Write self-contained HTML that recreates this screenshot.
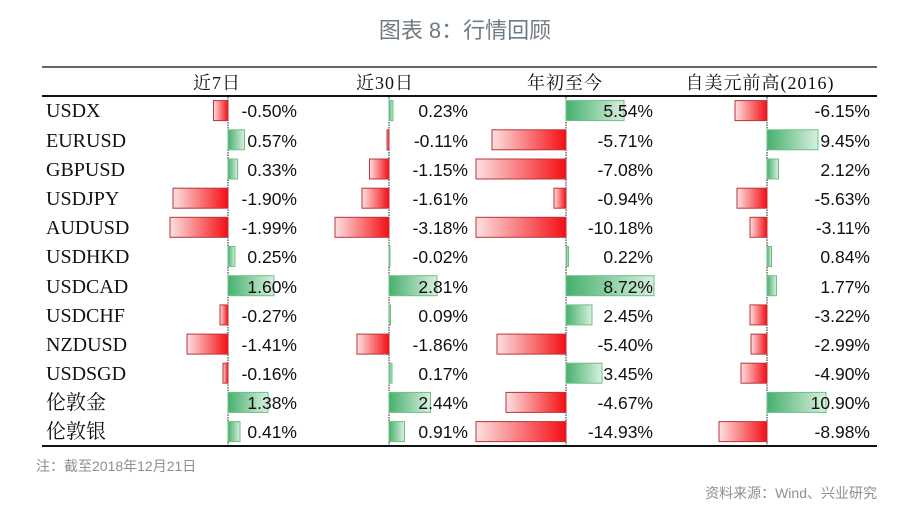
<!DOCTYPE html>
<html><head><meta charset="utf-8"><style>
html,body{margin:0;padding:0;background:#fff;}
svg{display:block;}
.lab{font-family:"Liberation Serif","Noto Serif CJK SC",serif;font-size:20px;fill:#111;}
.hd{font-family:"Liberation Serif","Noto Serif CJK SC",serif;font-size:18px;fill:#111;text-anchor:middle;letter-spacing:1px;}
.v{font-family:"Liberation Sans","Noto Sans CJK SC",sans-serif;font-size:17.5px;fill:#111;text-anchor:end;}
.r{fill:url(#gr);stroke:#b8353a;stroke-width:1;}
.g{fill:url(#gg);stroke:#6fbf86;stroke-width:1;}
.ax{stroke:#222;stroke-width:1;stroke-dasharray:1.5 1;}
</style></head><body>
<svg width="900" height="511" viewBox="0 0 900 511">
<defs>
<linearGradient id="gr" x1="0" x2="1" y1="0" y2="0"><stop offset="0" stop-color="#fde0e0"/><stop offset="1" stop-color="#f40e14"/></linearGradient>
<linearGradient id="gg" x1="0" x2="1" y1="0" y2="0"><stop offset="0" stop-color="#46b06c"/><stop offset="1" stop-color="#d8f0df"/></linearGradient>
</defs>
<text x="465" y="38" text-anchor="middle" style="font-family:'Liberation Sans','Noto Sans CJK SC',sans-serif;font-size:22px;fill:#6f7b84">图表 8：行情回顾</text>
<line x1="42" y1="67" x2="877" y2="67" stroke="#666" stroke-width="2"/>
<text class="hd" x="217" y="89">近7日</text>
<text class="hd" x="385" y="89">近30日</text>
<text class="hd" x="565" y="89">年初至今</text>
<text class="hd" x="760" y="89">自美元前高(2016)</text>
<line x1="42" y1="96" x2="877" y2="96" stroke="#111" stroke-width="2"/>
<line x1="42" y1="446" x2="877" y2="446" stroke="#111" stroke-width="2"/>
<line class="ax" x1="228" y1="97" x2="228" y2="445"/>
<line class="ax" x1="389" y1="97" x2="389" y2="445"/>
<line class="ax" x1="566" y1="97" x2="566" y2="445"/>
<line class="ax" x1="767" y1="97" x2="767" y2="445"/>

<text class="lab" x="46" y="117">USDX</text>
<text class="lab" x="46" y="147">EURUSD</text>
<text class="lab" x="46" y="176">GBPUSD</text>
<text class="lab" x="46" y="205">USDJPY</text>
<text class="lab" x="46" y="234">AUDUSD</text>
<text class="lab" x="46" y="263">USDHKD</text>
<text class="lab" x="46" y="293">USDCAD</text>
<text class="lab" x="46" y="322">USDCHF</text>
<text class="lab" x="46" y="351">NZDUSD</text>
<text class="lab" x="46" y="380">USDSGD</text>
<text class="lab" x="46" y="409">伦敦金</text>
<text class="lab" x="46" y="438">伦敦银</text>

<rect class="r" x="213.5" y="100.6" width="14.5" height="20"/>
<rect class="g" x="228" y="129.8" width="16.5" height="20"/>
<rect class="g" x="228" y="159" width="9.6" height="20"/>
<rect class="r" x="173" y="188.2" width="55" height="20"/>
<rect class="r" x="170" y="217.3" width="58" height="20"/>
<rect class="g" x="228" y="246.5" width="7" height="20"/>
<rect class="g" x="228" y="275.7" width="46" height="20"/>
<rect class="r" x="220" y="304.9" width="8" height="20"/>
<rect class="r" x="187" y="334.1" width="41" height="20"/>
<rect class="r" x="223" y="363.2" width="5" height="20"/>
<rect class="g" x="228" y="392.4" width="40" height="20"/>
<rect class="g" x="228" y="421.6" width="12" height="20"/>
<text class="v" x="297" y="117">-0.50%</text>
<text class="v" x="297" y="147">0.57%</text>
<text class="v" x="297" y="176">0.33%</text>
<text class="v" x="297" y="205">-1.90%</text>
<text class="v" x="297" y="234">-1.99%</text>
<text class="v" x="297" y="263">0.25%</text>
<text class="v" x="297" y="293">1.60%</text>
<text class="v" x="297" y="322">-0.27%</text>
<text class="v" x="297" y="351">-1.41%</text>
<text class="v" x="297" y="380">-0.16%</text>
<text class="v" x="297" y="409">1.38%</text>
<text class="v" x="297" y="438">0.41%</text>

<rect class="g" x="389" y="100.6" width="4" height="20"/>
<rect class="r" x="387" y="129.8" width="2" height="20"/>
<rect class="r" x="369.5" y="159" width="19.5" height="20"/>
<rect class="r" x="362" y="188.2" width="27" height="20"/>
<rect class="r" x="335" y="217.3" width="54" height="20"/>
<rect class="g" x="389" y="246.5" width="1" height="20"/>
<rect class="g" x="389" y="275.7" width="48" height="20"/>
<rect class="g" x="389" y="304.9" width="1.5" height="20"/>
<rect class="r" x="357" y="334.1" width="32" height="20"/>
<rect class="g" x="389" y="363.2" width="3" height="20"/>
<rect class="g" x="389" y="392.4" width="41.5" height="20"/>
<rect class="g" x="389" y="421.6" width="15.5" height="20"/>
<text class="v" x="468" y="117">0.23%</text>
<text class="v" x="468" y="147">-0.11%</text>
<text class="v" x="468" y="176">-1.15%</text>
<text class="v" x="468" y="205">-1.61%</text>
<text class="v" x="468" y="234">-3.18%</text>
<text class="v" x="468" y="263">-0.02%</text>
<text class="v" x="468" y="293">2.81%</text>
<text class="v" x="468" y="322">0.09%</text>
<text class="v" x="468" y="351">-1.86%</text>
<text class="v" x="468" y="380">0.17%</text>
<text class="v" x="468" y="409">2.44%</text>
<text class="v" x="468" y="438">0.91%</text>

<rect class="g" x="566" y="100.6" width="58" height="20"/>
<rect class="r" x="492" y="129.8" width="74" height="20"/>
<rect class="r" x="476" y="159" width="90" height="20"/>
<rect class="r" x="554" y="188.2" width="12" height="20"/>
<rect class="r" x="476" y="217.3" width="90" height="20"/>
<rect class="g" x="566" y="246.5" width="2.5" height="20"/>
<rect class="g" x="566" y="275.7" width="88" height="20"/>
<rect class="g" x="566" y="304.9" width="26" height="20"/>
<rect class="r" x="497" y="334.1" width="69" height="20"/>
<rect class="g" x="566" y="363.2" width="36" height="20"/>
<rect class="r" x="506" y="392.4" width="60" height="20"/>
<rect class="r" x="476" y="421.6" width="90" height="20"/>
<text class="v" x="653" y="117">5.54%</text>
<text class="v" x="653" y="147">-5.71%</text>
<text class="v" x="653" y="176">-7.08%</text>
<text class="v" x="653" y="205">-0.94%</text>
<text class="v" x="653" y="234">-10.18%</text>
<text class="v" x="653" y="263">0.22%</text>
<text class="v" x="653" y="293">8.72%</text>
<text class="v" x="653" y="322">2.45%</text>
<text class="v" x="653" y="351">-5.40%</text>
<text class="v" x="653" y="380">3.45%</text>
<text class="v" x="653" y="409">-4.67%</text>
<text class="v" x="653" y="438">-14.93%</text>

<rect class="r" x="735" y="100.6" width="32" height="20"/>
<rect class="g" x="767" y="129.8" width="51" height="20"/>
<rect class="g" x="767" y="159" width="11.5" height="20"/>
<rect class="r" x="737" y="188.2" width="30" height="20"/>
<rect class="r" x="750" y="217.3" width="17" height="20"/>
<rect class="g" x="767" y="246.5" width="4.5" height="20"/>
<rect class="g" x="767" y="275.7" width="9.5" height="20"/>
<rect class="r" x="750" y="304.9" width="17" height="20"/>
<rect class="r" x="751" y="334.1" width="16" height="20"/>
<rect class="r" x="741" y="363.2" width="26" height="20"/>
<rect class="g" x="767" y="392.4" width="59" height="20"/>
<rect class="r" x="719" y="421.6" width="48" height="20"/>
<text class="v" x="870" y="117">-6.15%</text>
<text class="v" x="870" y="147">9.45%</text>
<text class="v" x="870" y="176">2.12%</text>
<text class="v" x="870" y="205">-5.63%</text>
<text class="v" x="870" y="234">-3.11%</text>
<text class="v" x="870" y="263">0.84%</text>
<text class="v" x="870" y="293">1.77%</text>
<text class="v" x="870" y="322">-3.22%</text>
<text class="v" x="870" y="351">-2.99%</text>
<text class="v" x="870" y="380">-4.90%</text>
<text class="v" x="870" y="409">10.90%</text>
<text class="v" x="870" y="438">-8.98%</text>

<text x="36" y="471" style="font-family:'Liberation Sans','Noto Sans CJK SC',sans-serif;font-size:14px;fill:#8a9096">注：截至2018年12月21日</text>
<text x="877" y="498" text-anchor="end" style="font-family:'Liberation Sans','Noto Sans CJK SC',sans-serif;font-size:14px;fill:#8a9096">资料来源：Wind、兴业研究</text>
</svg>
</body></html>
